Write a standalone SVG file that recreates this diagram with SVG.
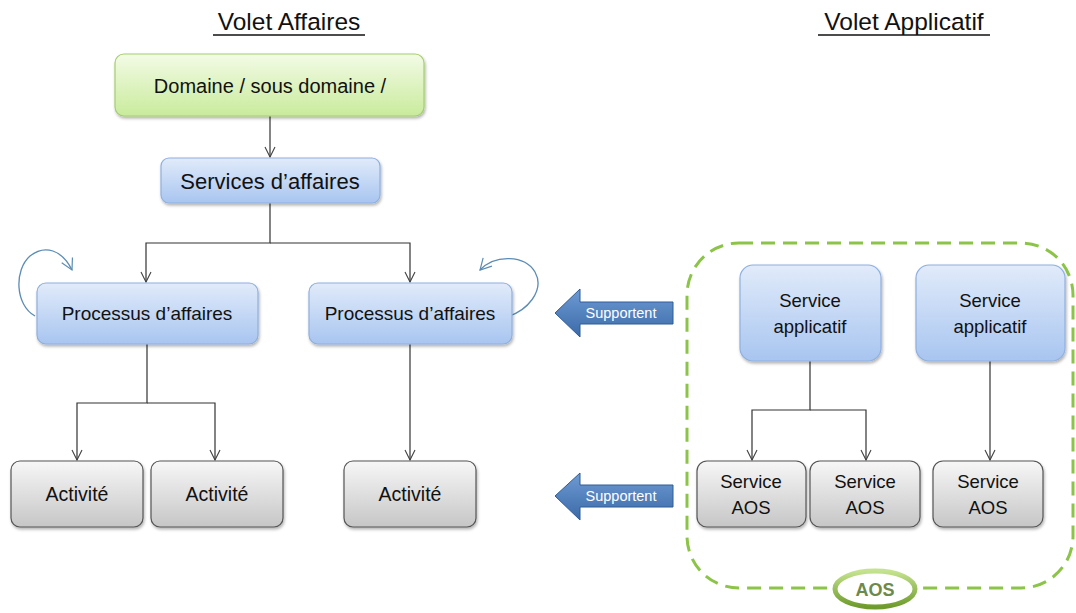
<svg xmlns="http://www.w3.org/2000/svg" width="1076" height="613" viewBox="0 0 1076 613">
<defs>
<linearGradient id="gGreen" x1="0" y1="0" x2="0" y2="1"><stop offset="0" stop-color="#f3fbe6"/><stop offset="1" stop-color="#c9eb9c"/></linearGradient>
<linearGradient id="gBlue" x1="0" y1="0" x2="0" y2="1"><stop offset="0" stop-color="#e1ebfa"/><stop offset="1" stop-color="#a8c5f0"/></linearGradient>
<linearGradient id="gGray" x1="0" y1="0" x2="0" y2="1"><stop offset="0" stop-color="#f7f7f7"/><stop offset="1" stop-color="#c6c6c6"/></linearGradient>
<linearGradient id="gArrow" x1="0" y1="0" x2="0" y2="1"><stop offset="0" stop-color="#6f9bd3"/><stop offset="1" stop-color="#3a6aa8"/></linearGradient>
<linearGradient id="gRing" x1="0" y1="0" x2="0" y2="1"><stop offset="0" stop-color="#c5e38f"/><stop offset="1" stop-color="#6e9b2c"/></linearGradient>
<filter id="sh" x="-10%" y="-10%" width="125%" height="135%"><feDropShadow dx="1" dy="2" stdDeviation="1.5" flood-color="#000" flood-opacity="0.3"/></filter>
<marker id="ah" viewBox="0 0 12 12" refX="11" refY="6" markerWidth="12" markerHeight="12" markerUnits="userSpaceOnUse" orient="auto"><path d="M1,1 L11,6 L1,11" fill="none" stroke="#404040" stroke-width="1.1"/></marker>
<marker id="ahb" viewBox="0 0 14 14" refX="12" refY="7" markerWidth="14" markerHeight="14" markerUnits="userSpaceOnUse" orient="auto"><path d="M1,1 L12,7 L1,13" fill="none" stroke="#5b8cb5" stroke-width="1.2"/></marker>
<style>
.t{font-family:"Liberation Sans",Arial,sans-serif;fill:#111;text-anchor:middle}
.title{font-size:24.5px;fill:#111}
.green{fill:url(#gGreen);stroke:#a4cf6c;stroke-width:1.2;filter:url(#sh)}
.blue{fill:url(#gBlue);stroke:#8fb0df;stroke-width:1.2;filter:url(#sh)}
.gray{fill:url(#gGray);stroke:#555;stroke-width:1.2;filter:url(#sh)}
.c{fill:none;stroke:#333;stroke-width:1.2}
.loop{fill:none;stroke:#5b8cb5;stroke-width:1.3}
.sup{fill:url(#gArrow);stroke:#2f5d95;stroke-width:1}
.st{font-family:"Liberation Sans",Arial,sans-serif;font-size:14.5px;fill:#fff;text-anchor:middle}
.n{font-size:18.5px}
</style>
</defs>
<rect width="1076" height="613" fill="#fff"/>

<g id="titles">
<text class="t title" x="289" y="30">Volet Affaires</text>
<line x1="213" y1="35" x2="365" y2="35" stroke="#111" stroke-width="1.3"/>
<text class="t title" x="904" y="30">Volet Applicatif</text>
<line x1="818" y1="35" x2="990" y2="35" stroke="#111" stroke-width="1.3"/>
</g>

<g id="aos-group">
<rect x="687" y="243" width="386" height="345" rx="52" ry="52" fill="none" stroke="#8cc448" stroke-width="3" stroke-dasharray="14 8"/>
<ellipse cx="875" cy="589" rx="40" ry="18" fill="#fff" stroke="url(#gRing)" stroke-width="5"/>
<text x="875" y="596" font-family="Liberation Sans,Arial,sans-serif" font-size="18" font-weight="bold" fill="#6d8a4a" text-anchor="middle">AOS</text>
</g>

<g id="connectors">
<path class="c" d="M270,116 V157" marker-end="url(#ah)"/>
<path class="c" d="M270,203 V243 H146 V282" marker-end="url(#ah)"/>
<path class="c" d="M270,243 H410 V282" marker-end="url(#ah)"/>
<path class="c" d="M147,344 V403 H77 V460" marker-end="url(#ah)"/>
<path class="c" d="M147,403 H215 V460" marker-end="url(#ah)"/>
<path class="c" d="M410,344 V460" marker-end="url(#ah)"/>
<path class="c" d="M810,361 V410 H752 V460" marker-end="url(#ah)"/>
<path class="c" d="M810,410 H866 V460" marker-end="url(#ah)"/>
<path class="c" d="M990,361 V460" marker-end="url(#ah)"/>
<path class="loop" d="M35,316 C15,305 14,270 30,256 C45,244 62,250 72,270" marker-end="url(#ahb)"/>
<path class="loop" d="M503,318 C528,312 545,290 535,272 C525,255 495,254 480,270" marker-end="url(#ahb)"/>
</g>

<g id="sup1">
<path class="sup" d="M555,313 L580,289 L580,302 L673,302 L673,324 L580,324 L580,337 Z"/>
<text class="st" x="621" y="318">Supportent</text>
</g>
<g id="sup2">
<path class="sup" d="M555,496 L580,473 L580,485 L673,485 L673,507 L580,507 L580,520 Z"/>
<text class="st" x="621" y="501">Supportent</text>
</g>

<g id="domaine"><rect class="green" x="115" y="54" width="309" height="62" rx="9"/><text class="t" x="270" y="93" font-size="20">Domaine / sous domaine /</text></g>
<g id="services-affaires"><rect class="blue" x="161" y="158" width="219" height="45" rx="8"/><text class="t" x="270" y="189" font-size="22">Services d’affaires</text></g>
<g id="processus1"><rect class="blue" x="37" y="283" width="221" height="61" rx="9"/><text class="t" x="147" y="320" font-size="19">Processus d’affaires</text></g>
<g id="processus2"><rect class="blue" x="309" y="283" width="203" height="61" rx="9"/><text class="t" x="410" y="320" font-size="19">Processus d’affaires</text></g>
<g id="activite1"><rect class="gray" x="11" y="461" width="132" height="66" rx="9"/><text class="t" x="77" y="501" font-size="19.5">Activité</text></g>
<g id="activite2"><rect class="gray" x="151" y="461" width="132" height="66" rx="9"/><text class="t" x="217" y="501" font-size="19.5">Activité</text></g>
<g id="activite3"><rect class="gray" x="344" y="461" width="132" height="66" rx="9"/><text class="t" x="410" y="501" font-size="19.5">Activité</text></g>
<g id="service-app1"><rect class="blue" x="740" y="265" width="141" height="96" rx="13"/><text class="t n" x="810" y="307">Service</text><text class="t n" x="810" y="333">applicatif</text></g>
<g id="service-app2"><rect class="blue" x="916" y="265" width="149" height="96" rx="13"/><text class="t n" x="990" y="307">Service</text><text class="t n" x="990" y="333">applicatif</text></g>
<g id="aos1"><rect class="gray" x="697" y="461" width="109" height="66" rx="10"/><text class="t n" x="751" y="488">Service</text><text class="t n" x="751" y="514">AOS</text></g>
<g id="aos2"><rect class="gray" x="810" y="461" width="110" height="66" rx="10"/><text class="t n" x="865" y="488">Service</text><text class="t n" x="865" y="514">AOS</text></g>
<g id="aos3"><rect class="gray" x="933" y="461" width="110" height="66" rx="10"/><text class="t n" x="988" y="488">Service</text><text class="t n" x="988" y="514">AOS</text></g>
</svg>
